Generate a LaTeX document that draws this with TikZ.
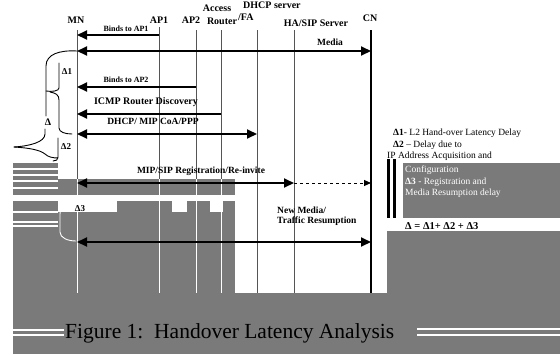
\documentclass[tikz,border=0pt]{standalone}
\usepackage{fontspec}
\setmainfont{Liberation Serif}
\usetikzlibrary{arrows.meta}
\definecolor{artgrey}{RGB}{122,122,122}
\definecolor{lifegrey}{RGB}{85,85,85}
\begin{document}
\begin{tikzpicture}[x=1pt,y=-1pt,
  life/.style={draw=lifegrey,line width=1pt},
  lifew/.style={draw=white,line width=1pt},
  msg/.style={line width=2pt,-{Triangle[length=10pt,width=9pt]}},
  dmsg/.style={line width=2pt,{Triangle[length=10pt,width=9pt]}-{Triangle[length=10pt,width=9pt]}},
  hdr/.style={font=\fontsize{10}{12}\selectfont\bfseries,inner sep=0pt},
  smalllbl/.style={font=\fontsize{8}{9}\selectfont\bfseries,inner sep=0pt},
  lbl/.style={font=\fontsize{9.5}{11}\selectfont\bfseries,inner sep=0pt},
  leg/.style={font=\fontsize{9.5}{11}\selectfont,inner sep=0pt,anchor=west},
  brc/.style={line width=0.9pt,line cap=round},
  dlt/.style={font=\fontsize{9}{10}\selectfont\bfseries,inner sep=0pt},
]
\useasboundingbox (0,0) rectangle (560,354);
\fill[white] (0,0) rectangle (560,354);

% ---- grey blocks seen in the reference ----
\fill[artgrey] (13,163) rectangle (58,354);
\fill[artgrey] (13,293) rectangle (560,354);
\fill[artgrey] (58,179) rectangle (235,293);
\fill[white] (13,195) rectangle (235,201);
\fill[white] (58,201) rectangle (117,212);
\fill[white] (172,201) rectangle (187,212);
\fill[white] (210,201) rectangle (223,212);
\fill[artgrey] (403,163) rectangle (560,218);
\fill[artgrey] (387,231) rectangle (560,293);
\foreach \yy in {169,175,181,188,212,222,226}
  \draw[white,line width=1.4pt] (13,\yy) -- (58,\yy);
\draw[black,line width=2.5pt] (388.5,159) -- (388.5,218);
\draw[black,line width=2.5pt] (394.5,159) -- (394.5,218);
\draw[white,line width=1.2pt] (13,330) -- (64,330) (13,335) -- (64,335);
\draw[white,line width=1.2pt] (417,329) -- (560,329) (417,335) -- (560,335);

% ---- header labels ----
\node[hdr] (MN) at (76,20) {MN};
\node[hdr] (AP1) at (159,20) {AP1};
\node[hdr] (AP2) at (191,20) {AP2};
\node[hdr] (AR1) at (217,8) {Access};
\node[hdr] (AR2) at (222,21) {Router};
\node[hdr,anchor=west] (DH1) at (243,5) {DHCP server};
\node[hdr,anchor=west] (DH2) at (238,17) {/FA};
\node[hdr] (HA) at (316,23) {HA/SIP Server};
\node[hdr] (CN) at (370,18) {CN};

% ---- lifelines ----
\coordinate (lMN) at (77,30);
\coordinate (lAP1) at (159,27);
\coordinate (lAP2) at (196,30);
\coordinate (lAR) at (221,30);
\coordinate (lDH) at (257,30);
\coordinate (lHA) at (294,30);
\coordinate (lCN) at (371,30);
\coordinate (gtop) at (0,179);
\coordinate (gbot) at (0,293);
\foreach \l in {lMN,lAP1,lAP2,lAR}{
  \draw[life] (\l) -- (\l |- gtop);
  \draw[lifew] (\l |- gtop) -- (\l |- gbot);
}
\draw[life] (lDH) -- (lDH |- gbot);
\draw[life] (lHA) -- (lHA |- gbot);
\draw[line width=1.8pt] (lCN) -- (lCN |- gbot);

% ---- message rows ----
\coordinate (r1) at (0,35);
\coordinate (r2) at (0,51);
\coordinate (r3) at (0,87);
\coordinate (r4) at (0,114);
\coordinate (r5) at (0,134);
\coordinate (r6) at (0,183);
\coordinate (r7) at (0,242);

\draw[msg] (lAP1 |- r1) -- (lMN |- r1);
\draw[dmsg] (lMN |- r2) -- (lCN |- r2);
\draw[msg] (lAP2 |- r3) -- (lMN |- r3);
\draw[msg] (lAR |- r4) -- (lMN |- r4);
\draw[dmsg] (lMN |- r5) -- (lDH |- r5);
\draw[dmsg] (lMN |- r6) -- (lHA |- r6);
\draw[line width=1pt,dashed,-{Triangle[length=7pt,width=6pt]}] (lHA |- r6) -- (lCN |- r6);
\draw[dmsg] (lMN |- r7) -- (lCN |- r7);

% ---- message labels ----
\node[smalllbl] (t1) at (126,29) {Binds to AP1};
\node[lbl] (t2) at (330,42) {Media};
\node[smalllbl] (t3) at (126,80) {Binds to AP2};
\node[font=\fontsize{10}{12}\selectfont\bfseries,inner sep=0pt] (t4) at (146,102) {ICMP Router Discovery};
\node[lbl] (t5) at (153,121) {DHCP/ MIP CoA/PPP};
\node[lbl] (t6) at (201,171) {MIP/SIP Registration/Re-invite};
\node[lbl,anchor=west] (t7a) at (277,210) {New Media/};
\node[lbl,anchor=west] (t7b) at (277,221) {Traffic Resumption};

% ---- braces ----
\draw[brc] (77,51) .. controls (60,50) and (46,54) .. (46,66) -- (46,116);
\draw[brc] (45,129) -- (45,134) .. controls (45,142) and (30,146) .. (14,147);
\draw[brc] (14,147) .. controls (30,148) and (40,150) .. (45,154) .. controls (48,157) and (53,158) .. (58,158);
\draw[brc] (59,63) -- (59,88) .. controls (59,91) and (52,92) .. (46,91);
\draw[brc] (50,92) .. controls (56,93) and (59,95) .. (59,100) -- (59,128) .. controls (59,132) and (65,134) .. (72,134);
\draw[brc] (58,138) -- (58,157) .. controls (58,160) and (56,161) .. (53,161);
\draw[brc,white] (68,206) .. controls (62,206) and (60,209) .. (60,214) -- (60,232) .. controls (60,238) and (68,241) .. (76,241);
\node[dlt] (d1) at (67,72) {Δ1};
\node[font=\fontsize{10}{12}\selectfont\bfseries,inner sep=0pt] (d) at (48,122) {Δ};
\node[dlt] (d2) at (66,147) {Δ2};
\node[dlt] (d3) at (80,209) {Δ3};

% ---- legend ----
\node[leg] (L1) at (393,133) {\textbf{Δ1}- L2 Hand-over Latency Delay};
\node[leg] (L2) at (393,145) {\textbf{Δ2} – Delay due to};
\node[leg] (L3) at (387,156) {IP Address Acquisition and};
\node[leg,text=white] (L4) at (405,170) {Configuration};
\node[leg,text=white] (L5) at (405,182) {\textbf{Δ3} - Registration and};
\node[leg,text=white] (L6) at (405,193) {Media Resumption delay};
\node[leg,font=\fontsize{10.5}{12}\selectfont\bfseries] (L7) at (405,226) {Δ = Δ1+ Δ2 + Δ3};

% ---- caption ----
\node[font=\fontsize{21.5}{25}\selectfont,inner sep=0pt,anchor=west] (cap) at (65,333) {Figure 1:\ \ Handover Latency Analysis};
\end{tikzpicture}
\end{document}
